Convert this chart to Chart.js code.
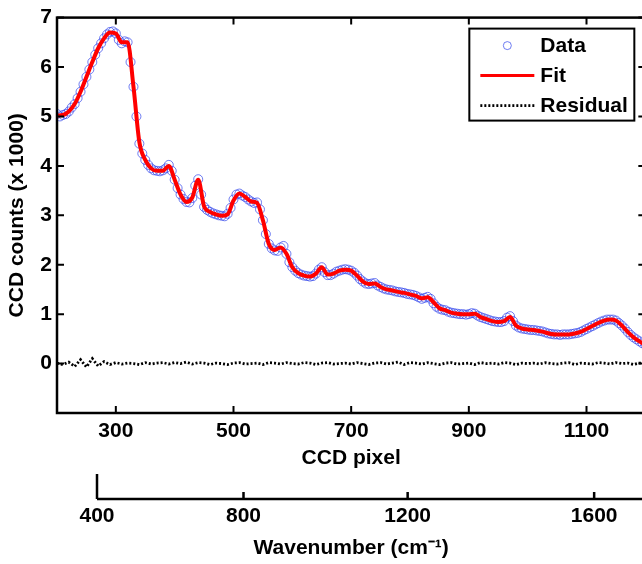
<!DOCTYPE html>
<html>
<head>
<meta charset="utf-8">
<title>CCD spectrum fit</title>
<script src="https://cdn.jsdelivr.net/npm/chart.js"></script>
<style>
  html, body { margin: 0; padding: 0; background: #fff; overflow: hidden; }
  #chart { display: block; }
</style>
</head>
<body>
<canvas id="chart" width="651" height="564"></canvas>
<script>
// sampling grids (CCD pixel index)
const dataPixels = [];
for (let p = 200; p <= 1200; p += 5) dataPixels.push(p);
const fitPixels = [];
for (let p = 200; p <= 1200; p += 10) fitPixels.push(p);

// measured counts (x 1000), one per 5 pixels
const dataCounts = [
  5.05, 5.00, 5.03, 5.05, 5.10, 5.18, 5.25, 5.37, 5.50, 5.65,
  5.80, 5.95, 6.10, 6.25, 6.38, 6.48, 6.58, 6.66, 6.71, 6.72,
  6.68, 6.55, 6.48, 6.52, 6.50, 6.10, 5.60, 5.00, 4.45, 4.25,
  4.12, 4.02, 3.95, 3.91, 3.90, 3.89, 3.91, 3.95, 4.02, 3.90,
  3.72, 3.55, 3.42, 3.33, 3.27, 3.26, 3.35, 3.60, 3.73, 3.42,
  3.17, 3.11, 3.07, 3.04, 3.02, 3.00, 2.99, 2.98, 3.03, 3.15,
  3.32, 3.42, 3.44, 3.40, 3.37, 3.32, 3.28, 3.25, 3.26, 3.12,
  2.90, 2.62, 2.42, 2.33, 2.29, 2.28, 2.35, 2.38, 2.22, 2.05,
  1.95, 1.88, 1.83, 1.80, 1.78, 1.77, 1.76, 1.77, 1.82, 1.90,
  1.95, 1.85, 1.79, 1.79, 1.82, 1.86, 1.88, 1.90, 1.91, 1.90,
  1.88, 1.84, 1.78, 1.71, 1.66, 1.62, 1.61, 1.62, 1.63, 1.58,
  1.55, 1.52, 1.50, 1.49, 1.48, 1.46, 1.45, 1.44, 1.43, 1.41,
  1.40, 1.39, 1.37, 1.34, 1.31, 1.33, 1.35, 1.31, 1.22, 1.15,
  1.11, 1.09, 1.08, 1.05, 1.03, 1.02, 1.01, 1.00, 1.00, 0.99,
  1.00, 1.02, 1.01, 0.97, 0.94, 0.92, 0.90, 0.88, 0.86, 0.85,
  0.84, 0.84, 0.86, 0.93, 0.96, 0.86, 0.77, 0.73, 0.71, 0.70,
  0.69, 0.68, 0.68, 0.67, 0.66, 0.65, 0.63, 0.61, 0.60, 0.59,
  0.59, 0.58, 0.59, 0.59, 0.59, 0.60, 0.61, 0.62, 0.64, 0.67,
  0.70, 0.73, 0.76, 0.79, 0.82, 0.85, 0.87, 0.89, 0.89, 0.89,
  0.87, 0.82, 0.77, 0.71, 0.64, 0.58, 0.53, 0.49, 0.45, 0.41,
  0.38
];

// fitted model, one per 10 pixels
const fitCounts = [
  5.02, 5.03, 5.10, 5.25, 5.50, 5.80, 6.10, 6.38, 6.58, 6.70,
  6.68, 6.50, 6.50, 5.60, 4.48, 4.12, 3.95, 3.90, 3.90, 4.00,
  3.72, 3.42, 3.27, 3.36, 3.72, 3.18, 3.07, 3.02, 2.99, 3.02,
  3.30, 3.44, 3.37, 3.28, 3.25, 2.90, 2.42, 2.30, 2.35, 2.22,
  1.95, 1.83, 1.78, 1.76, 1.82, 1.95, 1.80, 1.82, 1.88, 1.90,
  1.88, 1.78, 1.66, 1.61, 1.62, 1.55, 1.50, 1.48, 1.45, 1.43,
  1.40, 1.37, 1.32, 1.34, 1.24, 1.12, 1.08, 1.03, 1.01, 1.00,
  1.00, 1.01, 0.94, 0.90, 0.86, 0.84, 0.86, 0.94, 0.77, 0.71,
  0.69, 0.68, 0.66, 0.63, 0.60, 0.59, 0.59, 0.59, 0.61, 0.64,
  0.70, 0.76, 0.82, 0.87, 0.89, 0.87, 0.77, 0.64, 0.53, 0.45,
  0.38
];

// data minus fit, one per 10 pixels
const residualCounts = [
  0.01, -0.02, 0.03, -0.06, 0.08, -0.07, 0.10, -0.05, 0.04, -0.02,
  0.02, -0.01, 0.01, 0.00, -0.02, 0.02, -0.01, 0.01, 0.02, -0.01,
  0.02, 0.00, 0.03, -0.01, 0.02, 0.01, -0.02, 0.01, 0.00, -0.02,
  0.01, 0.02, -0.01, 0.00, 0.01, -0.02, 0.02, 0.01, -0.01, 0.02,
  0.00, -0.01, 0.02, 0.01, -0.02, 0.01, 0.02, -0.01, 0.00, 0.01,
  -0.01, 0.02, 0.00, -0.02, 0.01, 0.02, -0.01, 0.01, 0.03, -0.02,
  0.02, 0.01, -0.01, 0.02, 0.00, -0.02, 0.01, 0.02, -0.01, 0.00,
  0.01, -0.02, 0.02, 0.00, 0.01, -0.01, 0.02, 0.01, -0.02, 0.01,
  0.00, 0.01, -0.01, 0.02, 0.00, -0.01, 0.01, 0.02, -0.02, 0.01,
  0.00, -0.01, 0.02, 0.01, -0.01, 0.02, 0.00, 0.01, -0.02, 0.01,
  0.00
];

const pixelTicks = [300, 500, 700, 900, 1100];
const countTicks = [-1, 0, 1, 2, 3, 4, 5, 6, 7];
const wavenumberTicks = [400, 800, 1200, 1600];
const wavenumberPixels = [268, 517, 796, 1113]; // CCD pixel where each wavenumber lands

const FONT = { family: "'Liberation Sans', Arial, sans-serif", size: 21, weight: 'bold' };
const toXY = (xs, ys) => xs.map((x, i) => ({ x: x, y: ys[i] }));

// matlab style box with inward ticks, the wavenumber axis line and the framed legend
const boxAxes = {
  id: 'boxAxes',
  afterDatasetsDraw(chart) {
    const { ctx, chartArea: a, scales } = chart;
    ctx.save();
    ctx.strokeStyle = '#000';
    ctx.lineWidth = 2.5;
    ctx.strokeRect(a.left, a.top, a.right - a.left, a.bottom - a.top);

    ctx.lineWidth = 2;
    ctx.beginPath();
    pixelTicks.forEach(v => {
      const x = scales.x.getPixelForValue(v);
      ctx.moveTo(x, a.bottom); ctx.lineTo(x, a.bottom - 7);
      ctx.moveTo(x, a.top); ctx.lineTo(x, a.top + 7);
    });
    countTicks.forEach(v => {
      const y = scales.y.getPixelForValue(v);
      ctx.moveTo(a.left, y); ctx.lineTo(a.left + 7, y);
      ctx.moveTo(a.right, y); ctx.lineTo(a.right - 7, y);
    });
    ctx.stroke();

    // wavenumber axis
    const w = scales.x2;
    const yAx = w.top + 28;
    const x0 = w.getPixelForValue(wavenumberPixels[0]);
    ctx.lineWidth = 2.5;
    ctx.beginPath();
    ctx.moveTo(x0, yAx); ctx.lineTo(a.right, yAx);
    ctx.moveTo(x0, yAx); ctx.lineTo(x0, yAx - 25);
    wavenumberPixels.slice(1).forEach(v => {
      const x = w.getPixelForValue(v);
      ctx.moveTo(x, yAx); ctx.lineTo(x, yAx - 7);
    });
    ctx.stroke();

    // legend
    const L = a.right - 176, T = a.top + 11, W = 165, H = 92;
    ctx.fillStyle = '#fff';
    ctx.fillRect(L, T, W, H);
    ctx.lineWidth = 2;
    ctx.strokeRect(L, T, W, H);
    ctx.font = 'bold 21px ' + FONT.family;
    ctx.textBaseline = 'middle';
    chart.data.datasets.forEach((ds, i) => {
      const y = T + 17 + i * 30;
      ctx.save();
      if (ds.showLine === false) {
        ctx.strokeStyle = ds.pointBorderColor;
        ctx.lineWidth = ds.pointBorderWidth;
        ctx.beginPath();
        ctx.arc(L + 38, y, 4, 0, Math.PI * 2);
        ctx.stroke();
      } else {
        ctx.strokeStyle = ds.borderColor;
        ctx.lineWidth = Math.min(ds.borderWidth, 3);
        ctx.setLineDash(ds.borderDash || []);
        ctx.beginPath();
        ctx.moveTo(L + 11, y); ctx.lineTo(L + 65, y);
        ctx.stroke();
      }
      ctx.restore();
      ctx.fillStyle = '#000';
      ctx.fillText(ds.label, L + 71, y + 1);
    });
    ctx.restore();
  }
};

new Chart(document.getElementById('chart'), {
  type: 'line',
  data: {
    datasets: [
      {
        label: 'Data',
        data: toXY(dataPixels, dataCounts),
        showLine: false,
        pointRadius: 4.5,
        pointBorderWidth: 1,
        pointBorderColor: 'rgba(50,70,235,0.7)',
        pointBackgroundColor: 'rgba(0,0,0,0)',
        order: 2
      },
      {
        label: 'Fit',
        data: toXY(fitPixels, fitCounts),
        borderColor: '#ff0000',
        borderWidth: 4,
        pointRadius: 0,
        cubicInterpolationMode: 'monotone',
        order: 1
      },
      {
        label: 'Residual',
        data: toXY(fitPixels, residualCounts),
        borderColor: '#000',
        borderWidth: 2.8,
        borderDash: [2, 2],
        pointRadius: 0,
        order: 0
      }
    ]
  },
  options: {
    responsive: false,
    animation: false,
    devicePixelRatio: 1,
    layout: { padding: { top: 14, right: 2, left: 0, bottom: 0 } },
    plugins: { legend: { display: false }, tooltip: { enabled: false } },
    scales: {
      x: {
        type: 'linear', position: 'bottom', weight: 0, min: 200, max: 1200,
        afterBuildTicks: s => { s.ticks = pixelTicks.map(v => ({ value: v })); },
        afterFit: s => { s.height = 58; },
        ticks: { font: FONT, color: '#000', padding: 6, autoSkip: false, maxRotation: 0, callback: v => String(v) },
        grid: { display: false, drawTicks: false },
        border: { display: false },
        title: { display: true, text: 'CCD pixel', font: FONT, color: '#000', padding: { top: 0, bottom: 0 } }
      },
      x2: {
        type: 'linear', position: 'bottom', weight: 1, min: 200, max: 1200,
        afterBuildTicks: s => { s.ticks = wavenumberPixels.map(v => ({ value: v })); },
        afterFit: s => { s.height = 93; },
        ticks: {
          font: FONT, color: '#000', padding: 33, autoSkip: false, maxRotation: 0,
          callback: (v, i) => String(wavenumberTicks[i])
        },
        grid: { display: false, drawTicks: false },
        border: { display: false },
        title: { display: true, text: 'Wavenumber (cm⁻¹)', font: FONT, color: '#000', padding: { top: 0, bottom: 3 } }
      },
      y: {
        type: 'linear', min: -1, max: 7,
        afterBuildTicks: s => { s.ticks = countTicks.map(v => ({ value: v })); },
        afterFit: s => { s.width = 57; },
        ticks: { font: FONT, color: '#000', padding: 5, callback: v => (v >= 0 ? String(v) : '') },
        grid: { display: false, drawTicks: false },
        border: { display: false },
        title: { display: true, text: 'CCD counts (x 1000)', font: FONT, color: '#000', padding: { top: 5, bottom: 0 } }
      }
    }
  },
  plugins: [boxAxes]
});
</script>
</body>
</html>
